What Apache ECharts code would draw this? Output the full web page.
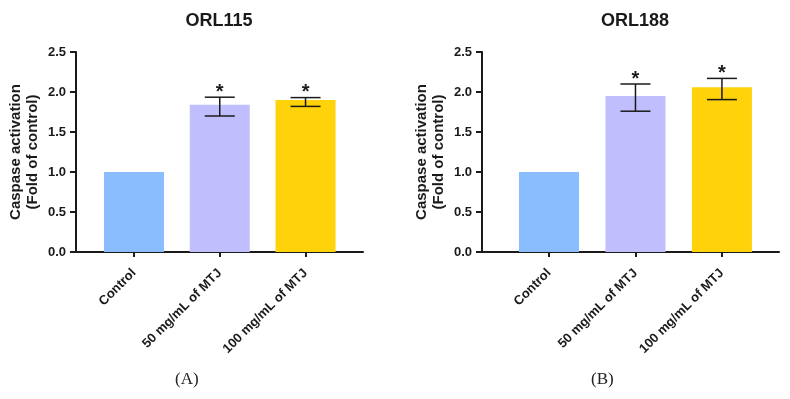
<!DOCTYPE html>
<html>
<head>
<meta charset="utf-8">
<script src="https://cdn.jsdelivr.net/npm/echarts@6/dist/echarts.min.js"></script>
<style>
  html, body { margin: 0; padding: 0; background: #fff; }
  #chart { width: 790px; height: 399px; }
</style>
</head>
<body>
<div id="chart"></div>
<script>
// groups and bar colours
const categories = ['Control', '50 mg/mL of MTJ', '100 mg/mL of MTJ']
const barColors = ['#89bdfd', '#c1befd', '#ffd20a']

// panel A - ORL115
const meanA = [1.0, 1.84, 1.90]
const errLowA = [null, 1.70, 1.82]
const errHighA = [null, 1.935, 1.93]
const starA = ['', '*', '*']

// panel B - ORL188
const meanB = [1.0, 1.95, 2.06]
const errLowB = [null, 1.76, 1.905]
const errHighB = [null, 2.10, 2.17]
const starB = ['', '*', '*']

const panelTitles = ['ORL115', 'ORL188']
const panelTags = ['(A)', '(B)']
const yName = 'Caspase activation\n(Fold of control)'

const font = 'Liberation Sans, Arial, sans-serif'
const ink = '#1a1a1a'

const chart = echarts.init(document.getElementById('chart'))

function xAxisFor(idx, min, max) {
  return {
    type: 'value',
    gridIndex: idx,
    min: min,
    max: max,
    splitLine: { show: false },
    axisLine: { show: true, onZero: false, lineStyle: { color: ink, width: 2 } },
    axisTick: { show: true, customValues: [0, 1, 2], length: 5, lineStyle: { color: ink, width: 2 } },
    axisLabel: {
      customValues: [0, 1, 2],
      rotate: 45,
      margin: 19,
      fontFamily: font,
      fontWeight: 'bold',
      fontSize: 13,
      color: ink,
      formatter: v => categories[Math.round(v)]
    }
  }
}

function yAxisFor(idx) {
  return {
    type: 'value',
    gridIndex: idx,
    min: 0,
    max: 2.5,
    interval: 0.5,
    name: yName,
    nameLocation: 'middle',
    nameGap: 35,
    nameTextStyle: { fontFamily: font, fontWeight: 'bold', fontSize: 15, color: ink, lineHeight: 17 },
    splitLine: { show: false },
    axisLine: { show: true, onZero: false, lineStyle: { color: ink, width: 2 } },
    axisTick: { show: true, length: 6, lineStyle: { color: ink, width: 2 } },
    axisLabel: {
      margin: 10,
      fontFamily: font,
      fontWeight: 'bold',
      fontSize: 13,
      color: ink,
      formatter: v => v.toFixed(1)
    }
  }
}

function barSeries(idx, means) {
  return {
    type: 'bar',
    xAxisIndex: idx,
    yAxisIndex: idx,
    barWidth: 60,
    data: means.map((m, i) => ({ value: [i, m], itemStyle: { color: barColors[i] } }))
  }
}

function errSeries(idx, lows, highs, stars) {
  return {
    type: 'custom',
    xAxisIndex: idx,
    yAxisIndex: idx,
    z: 5,
    data: lows.map((l, i) => [i, l == null ? 0 : l, highs[i] == null ? 0 : highs[i], l == null ? 0 : 1]),
    renderItem: function (params, api) {
      const star = stars[params.dataIndex]
      if (!api.value(3)) return null
      const top = api.coord([api.value(0), api.value(2)])
      const bot = api.coord([api.value(0), api.value(1)])
      const hw = 15
      const st = { stroke: ink, lineWidth: 1.5 }
      return {
        type: 'group',
        children: [
          { type: 'line', shape: { x1: top[0], y1: top[1], x2: bot[0], y2: bot[1] }, style: st },
          { type: 'line', shape: { x1: top[0] - hw, y1: top[1], x2: top[0] + hw, y2: top[1] }, style: st },
          { type: 'line', shape: { x1: bot[0] - hw, y1: bot[1], x2: bot[0] + hw, y2: bot[1] }, style: st },
          {
            type: 'text',
            x: top[0],
            y: top[1] - 5,
            style: {
              text: star,
              fill: ink,
              font: 'bold 20px ' + font,
              textAlign: 'center',
              textVerticalAlign: 'middle'
            }
          }
        ]
      }
    }
  }
}

const titleStyle = { fontFamily: font, fontWeight: 'bold', fontSize: 18, color: ink }

chart.setOption({
  animation: false,
  backgroundColor: '#fff',
  title: [
    { text: panelTitles[0], left: 219, top: 12, padding: 0, textAlign: 'center', textStyle: titleStyle },
    { text: panelTitles[1], left: 635, top: 12, padding: 0, textAlign: 'center', textStyle: titleStyle }
  ],
  grid: [
    { left: 76, top: 52, width: 287, height: 200, containLabel: false },
    { left: 482, top: 52, width: 297, height: 200, containLabel: false }
  ],
  xAxis: [xAxisFor(0, -0.676, 2.67), xAxisFor(1, -0.775, 2.66)],
  yAxis: [yAxisFor(0), yAxisFor(1)],
  series: [
    barSeries(0, meanA),
    errSeries(0, errLowA, errHighA, starA),
    barSeries(1, meanB),
    errSeries(1, errLowB, errHighB, starB)
  ],
  graphic: [
    {
      type: 'text', left: 175, top: 371,
      style: { text: panelTags[0], font: '17px Liberation Serif, serif', fill: '#222' }
    },
    {
      type: 'text', left: 591, top: 371,
      style: { text: panelTags[1], font: '17px Liberation Serif, serif', fill: '#222' }
    }
  ]
})
</script>
</body>
</html>
